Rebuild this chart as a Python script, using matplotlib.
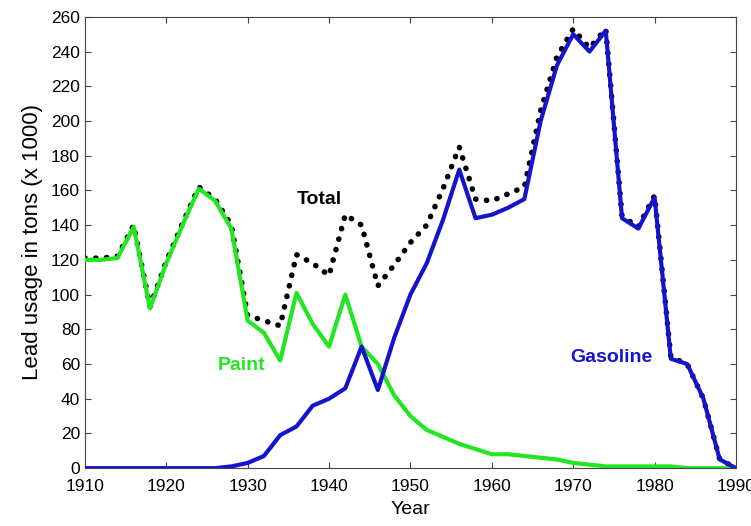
import numpy as np
import matplotlib.pyplot as plt

plt.rcParams['font.family'] = ['Liberation Sans', 'DejaVu Sans']

years = list(range(1910, 1991, 2))

paint = [120, 120, 121, 139, 92, 118, 140, 161, 154, 138,
         85, 78, 62, 101, 83, 70, 100, 70, 60, 42,
         30, 22, 18, 14, 11, 8, 8, 7, 6, 5,
         3, 2, 1, 1, 1, 1, 1, 0, 0, 0, 0]

gasoline = [0, 0, 0, 0, 0, 0, 0, 0, 0, 1,
            3, 7, 19, 24, 36, 40, 46, 70, 45, 75,
            100, 118, 143, 172, 144, 146, 150, 155, 200, 232,
            250, 240, 252, 144, 138, 156, 63, 60, 40, 5, 0]

total = [121, 121, 122, 140, 93, 119, 141, 162, 155, 140,
         88, 85, 82, 123, 118, 111, 146, 140, 105, 117,
         130, 140, 161, 185, 155, 154, 158, 162, 206, 237,
         253, 242, 253, 145, 139, 157, 64, 60, 40, 5, 0]

fig = plt.figure(figsize=(7.51, 5.26), dpi=100)
ax = fig.add_axes([0.113, 0.110, 0.867, 0.858])

ax.plot(years, total, color='black', linewidth=4.0, linestyle=(0, (0.05, 1.9)),
        dash_capstyle='round', zorder=2)
ax.plot(years, paint, color='#22e622', linewidth=3.0, zorder=3)
ax.plot(years, gasoline, color='#1414cc', linewidth=3.0, zorder=3)

ax.text(1936.0, 155, 'Total', color='black', fontsize=14, fontweight='bold',
        va='center')
ax.text(1926.3, 59, 'Paint', color='#22e622', fontsize=14, fontweight='bold',
        va='center')
ax.text(1969.6, 64, 'Gasoline', color='#1414cc', fontsize=14, fontweight='bold',
        va='center')

ax.set_xlim(1910, 1990)
ax.set_ylim(0, 260)
ax.set_xticks(range(1910, 1991, 10))
ax.set_yticks(range(0, 261, 20))
ax.tick_params(direction='in', top=True, right=True, labelsize=12.5, length=4,
               color='#444444')
ax.tick_params(axis='x', pad=8)
for s in ax.spines.values():
    s.set_color('#444444')
ax.set_xlabel('Year', fontsize=14, labelpad=5)
ax.set_ylabel('Lead usage in tons (x 1000)', fontsize=16, labelpad=6)

fig.savefig('out.png', dpi=100)
